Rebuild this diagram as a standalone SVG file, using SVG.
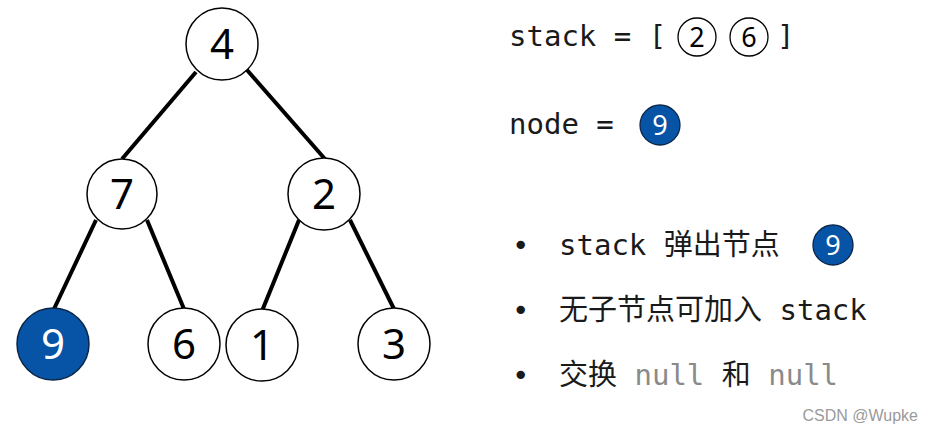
<svg xmlns="http://www.w3.org/2000/svg" width="932" height="435" viewBox="0 0 932 435">
<style>
.n circle{fill:#fff;stroke:#000;stroke-width:1.5}
.n.hl circle{fill:#0753a6;stroke:#0b2547}
.n text{font-family:"Noto Sans","Open Sans",sans-serif;font-size:42px;text-anchor:middle;fill:#000}
.n.hl text{fill:#fff}
.edges line{stroke:#000;stroke-width:4;stroke-linecap:butt}
.t{font-family:"DejaVu Sans Mono","Noto Sans CJK SC",monospace;font-size:29px;fill:#1a1a1a}
.g{fill:#8a8a8a}
.s circle{fill:#fff;stroke:#000;stroke-width:1.3}
.s.hl circle{fill:#0753a6;stroke:#0b2547}
.s text{font-family:"Noto Sans","Open Sans",sans-serif;font-size:27px;text-anchor:middle;fill:#000}
.s.hl text{fill:#fff}
</style>
<rect width="932" height="435" fill="#fff"/>
<g class="edges">
<line x1="196" y1="72" x2="122" y2="159"/>
<line x1="247" y1="70" x2="325" y2="159"/>
<line x1="96" y1="220" x2="54" y2="309"/>
<line x1="147" y1="220" x2="184" y2="309"/>
<line x1="299" y1="220" x2="262" y2="311"/>
<line x1="350" y1="220" x2="394" y2="309"/>
</g>
<g id="n4" class="n"><circle cx="222" cy="44" r="36"/><text x="222" y="59">4</text></g>
<g id="n7" class="n"><circle cx="122" cy="194" r="35"/><text x="122" y="209">7</text></g>
<g id="n2" class="n"><circle cx="324" cy="194" r="36"/><text x="324" y="209">2</text></g>
<g id="n9" class="n hl"><circle cx="53" cy="344" r="36"/><text x="53" y="359">9</text></g>
<g id="n6" class="n"><circle cx="184" cy="344" r="36"/><text x="184" y="359">6</text></g>
<g id="n1" class="n"><circle cx="262" cy="345" r="36"/><text x="262" y="360">1</text></g>
<g id="n3" class="n"><circle cx="394" cy="344" r="36"/><text x="394" y="359">3</text></g>
<g id="panel">
<text class="t" x="509" y="46">stack = [</text>
<g class="s"><circle cx="697" cy="37" r="19"/><text x="697" y="47">2</text></g>
<g class="s"><circle cx="749" cy="37" r="19"/><text x="749" y="47">6</text></g>
<text class="t" x="777" y="46">]</text>
<text class="t" x="509" y="134">node =</text>
<g class="s hl"><circle cx="660" cy="125" r="20"/><text x="660" y="135">9</text></g>
<text class="t" x="512" y="255">•</text>
<text class="t" x="559" y="255">stack 弹出节点</text>
<g class="s hl"><circle cx="833" cy="245" r="20"/><text x="833" y="255">9</text></g>
<text class="t" x="512" y="320">•</text>
<text class="t" x="559" y="320">无子节点可加入 stack</text>
<text class="t" x="512" y="385">•</text>
<text class="t" x="559" y="385">交换 <tspan class="g">null</tspan> 和 <tspan class="g">null</tspan></text>
</g>
<text x="918" y="421" text-anchor="end" style="font-family:'Liberation Sans',Arial,sans-serif;font-size:16px;fill:#9a9a9a">CSDN @Wupke</text>
</svg>
